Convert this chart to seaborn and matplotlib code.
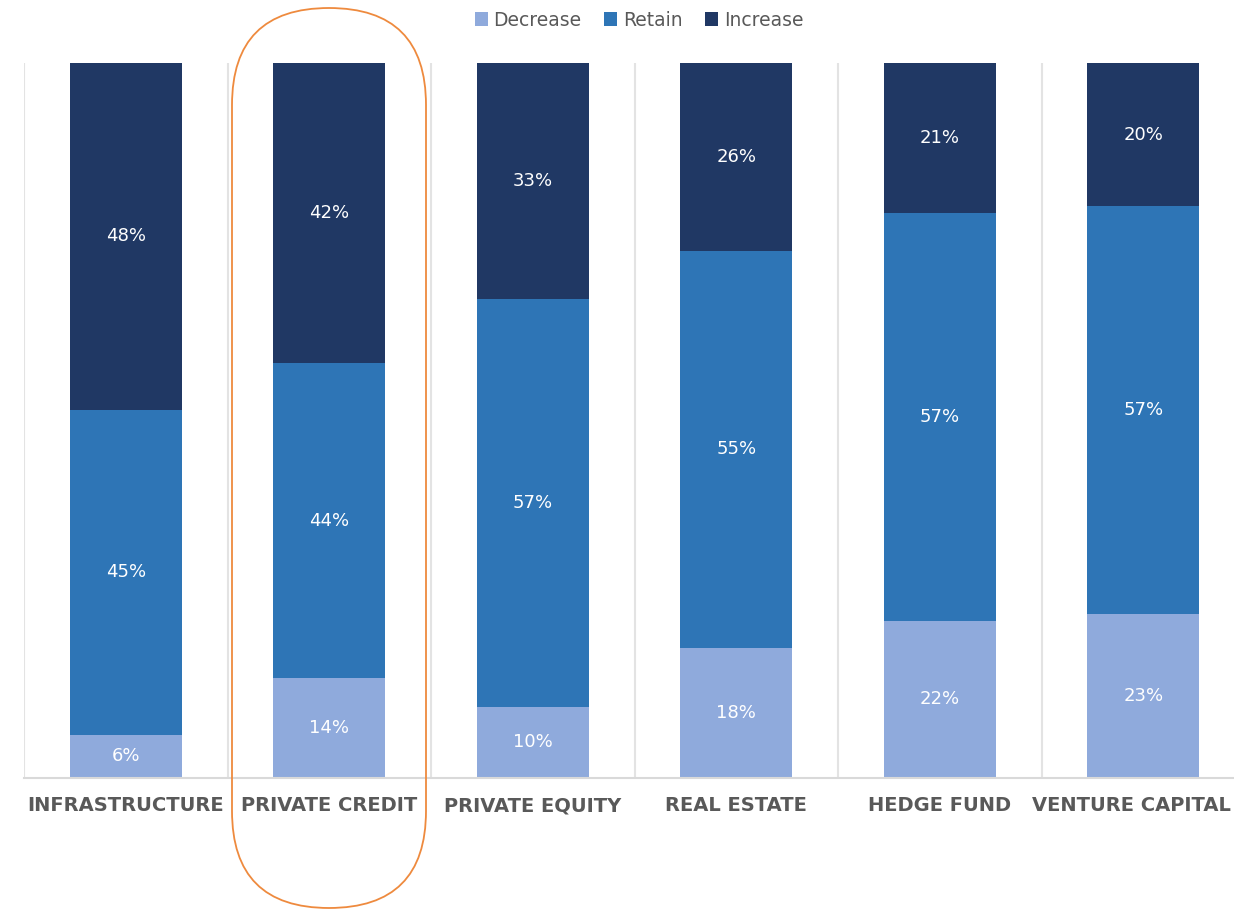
import matplotlib
matplotlib.use("Agg")
import matplotlib.pyplot as plt
import matplotlib.transforms as mtransforms
from matplotlib.patches import Patch, FancyBboxPatch
import seaborn as sns
import numpy as np

categories = ["INFRASTRUCTURE", "PRIVATE CREDIT", "PRIVATE EQUITY",
              "REAL ESTATE", "HEDGE FUND", "VENTURE CAPITAL"]
decrease = [6, 14, 10, 18, 22, 23]
retain = [45, 44, 57, 55, 57, 57]
increase = [48, 42, 33, 26, 21, 20]

series_names = ["Decrease", "Retain", "Increase"]
colors = ["#8faadc", "#2e75b6", "#203864"]

sns.set_theme(style="white")
plt.rcParams['font.family'] = ['DejaVu Sans']

fig = plt.figure(figsize=(12.34, 9.11), dpi=100)
ax = fig.add_axes([24/1234, 1-778/911, 1221/1234, 715/911])

series = [np.array(decrease, float), np.array(retain, float), np.array(increase, float)]
total = series[0] + series[1] + series[2]
bottom = np.zeros(len(categories))
for vals, col in zip(series, colors):
    share = vals / total
    sns.barplot(x=categories, y=share, bottom=bottom, color=col, width=0.55,
                saturation=1, ax=ax, edgecolor="none")
    for i, (b, s, v) in enumerate(zip(bottom, share, vals)):
        ax.text(i, b + s/2, f"{int(v)}%", ha="center", va="center",
                color="white", fontsize=13)
    bottom = bottom + share

ax.set_xlim(-0.5, len(categories) - 0.5)
ax.set_ylim(0, 1)
ax.set_yticks([])
for sp in ["left", "right", "top"]:
    ax.spines[sp].set_visible(False)
ax.spines["bottom"].set_color("#d9d9d9")
ax.spines["bottom"].set_linewidth(1.5)
for k in range(len(categories) + 1):
    ax.axvline(k - 0.5, color="#e3e3e3", lw=1.5, zorder=0)

ax.set_xticks(range(len(categories)))
ax.set_xticklabels(categories, fontsize=14, fontweight="bold", color="#595959")
ax.tick_params(axis="x", length=0, pad=13)
ax.set_xlabel("")
ax.set_ylabel("")

# keep the last label inside the figure
last = ax.get_xticklabels()[-1]
last.set_horizontalalignment("right")
last.set_transform(last.get_transform() +
                   mtransforms.ScaledTranslation(88/100, 0, fig.dpi_scale_trans))

handles = [Patch(facecolor=c, edgecolor="none", label=n) for n, c in zip(series_names, colors)]
fig.legend(handles=handles, loc="center", bbox_to_anchor=(639/1234, 1-20/911), ncol=3,
           frameon=False, fontsize=13.5, handlelength=0.7, handleheight=0.7,
           handletextpad=0.3, columnspacing=1.2, labelcolor="#595959")

ring = FancyBboxPatch((2.32, 0.03), 1.94, 9.0,
                      boxstyle="round,pad=0,rounding_size=0.97",
                      transform=fig.dpi_scale_trans, facecolor="none",
                      edgecolor="#ee8a3e", lw=1.3, zorder=10)
fig.patches.append(ring)

fig.savefig("out.png", dpi=100)
